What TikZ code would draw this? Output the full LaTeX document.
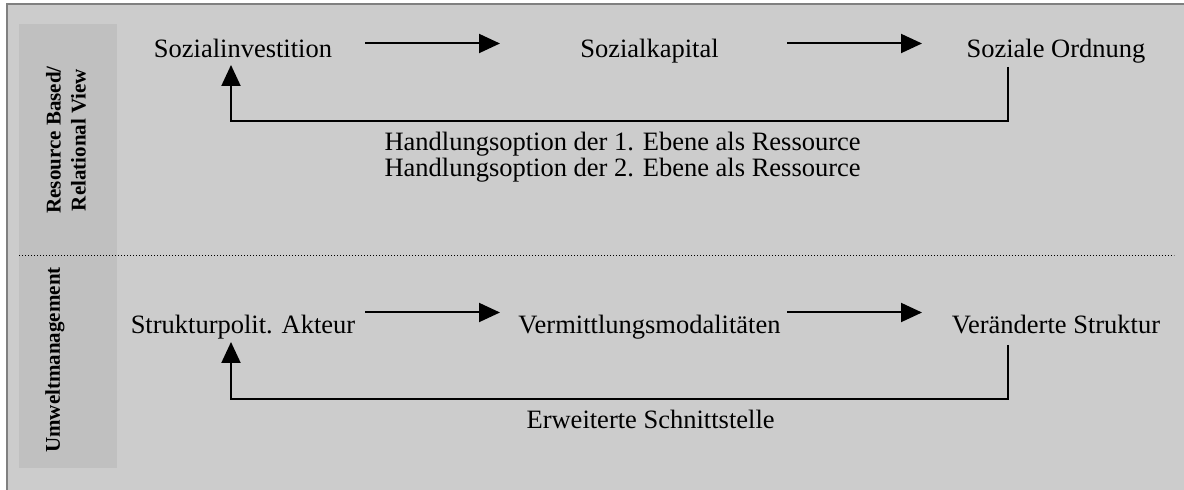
\documentclass[tikz,border=0pt]{standalone}
\usepackage{fontspec}
\setmainfont{Liberation Serif}
\usetikzlibrary{positioning}
\usetikzlibrary{arrows.meta}
\definecolor{panel}{HTML}{CCCCCC}
\definecolor{sidebar}{HTML}{C0C0C0}
\definecolor{frame}{HTML}{808080}

\begin{document}
\begin{tikzpicture}[x=0.5pt,y=-0.5pt,>={Triangle[length=10.5pt,width=9.5pt]},
	line width=1pt,auto,node distance=203.25pt,
	font=\fontsize{13.25}{13}\selectfont,
	main node/.style={inner sep=0pt,text height=0.7em,text depth=0.25em},
	side label/.style={rotate=90,align=center,font=\bfseries\fontsize{10.5}{12.5}\selectfont},
	back label/.style={below,inner sep=5pt,align=center}]
	
	% Rahmen und Seitenleiste
	\useasboundingbox (0,0) rectangle (1184,490);
	\fill[white] (0,0) rectangle (1184,490);
	\filldraw[fill=panel,draw=frame] (7,4) rectangle (1200,500);
	\fill[sidebar] (19,24) rectangle (117,468);
	\draw[line width=0.6pt,dash pattern=on 0.6pt off 0.9pt] (19,255.5) -- (1174,255.5);
	
	\node[side label] (rb) at (66,140) {Resource Based/\\Relational View};
	\node[side label] (um) at (55,360) {Umweltmanagement};
	
	% obere Ebene
	\node[main node] (si) at (243,53) {Sozialinvestition};
	\node[main node] (sk) [right of=si] {Sozialkapital};
	\node[main node] (so) [right of=sk] {Soziale Ordnung};
	
	% untere Ebene
	\node[main node] (sa) [node distance=138pt,below of=si] {Strukturpolit. Akteur};
	\node[main node] (vm) [right of=sa] {Vermittlungsmodalitäten};
	\node[main node] (vs) [right of=vm] {Veränderte Struktur};
	
	\path[->]
	([shift={(122,-9.5)}]si.center) edge ([shift={(-149.5,-9.5)}]sk.center)
	([shift={(137.5,-9.5)}]sk.center) edge ([shift={(-134,-9.5)}]so.center)
	([shift={(122,-16.5)}]sa.center) edge ([shift={(-149.5,-16.5)}]vm.center)
	([shift={(137.5,-16.5)}]vm.center) edge ([shift={(-134,-16.5)}]vs.center);
	
	\draw[->] ([shift={(-48,14)}]so.center) -- ++(0,54.5)
	-| node[pos=0.248,back label] {Handlungsoption der 1. Ebene als Ressource\\Handlungsoption der 2. Ebene als Ressource}
	([shift={(-12,12)}]si.center);
	\draw[->] ([shift={(-48,16)}]vs.center) -- ++(0,54.5)
	-| node[pos=0.23,back label] {Erweiterte Schnittstelle}
	([shift={(-12,13)}]sa.center);
\end{tikzpicture}
\end{document}
